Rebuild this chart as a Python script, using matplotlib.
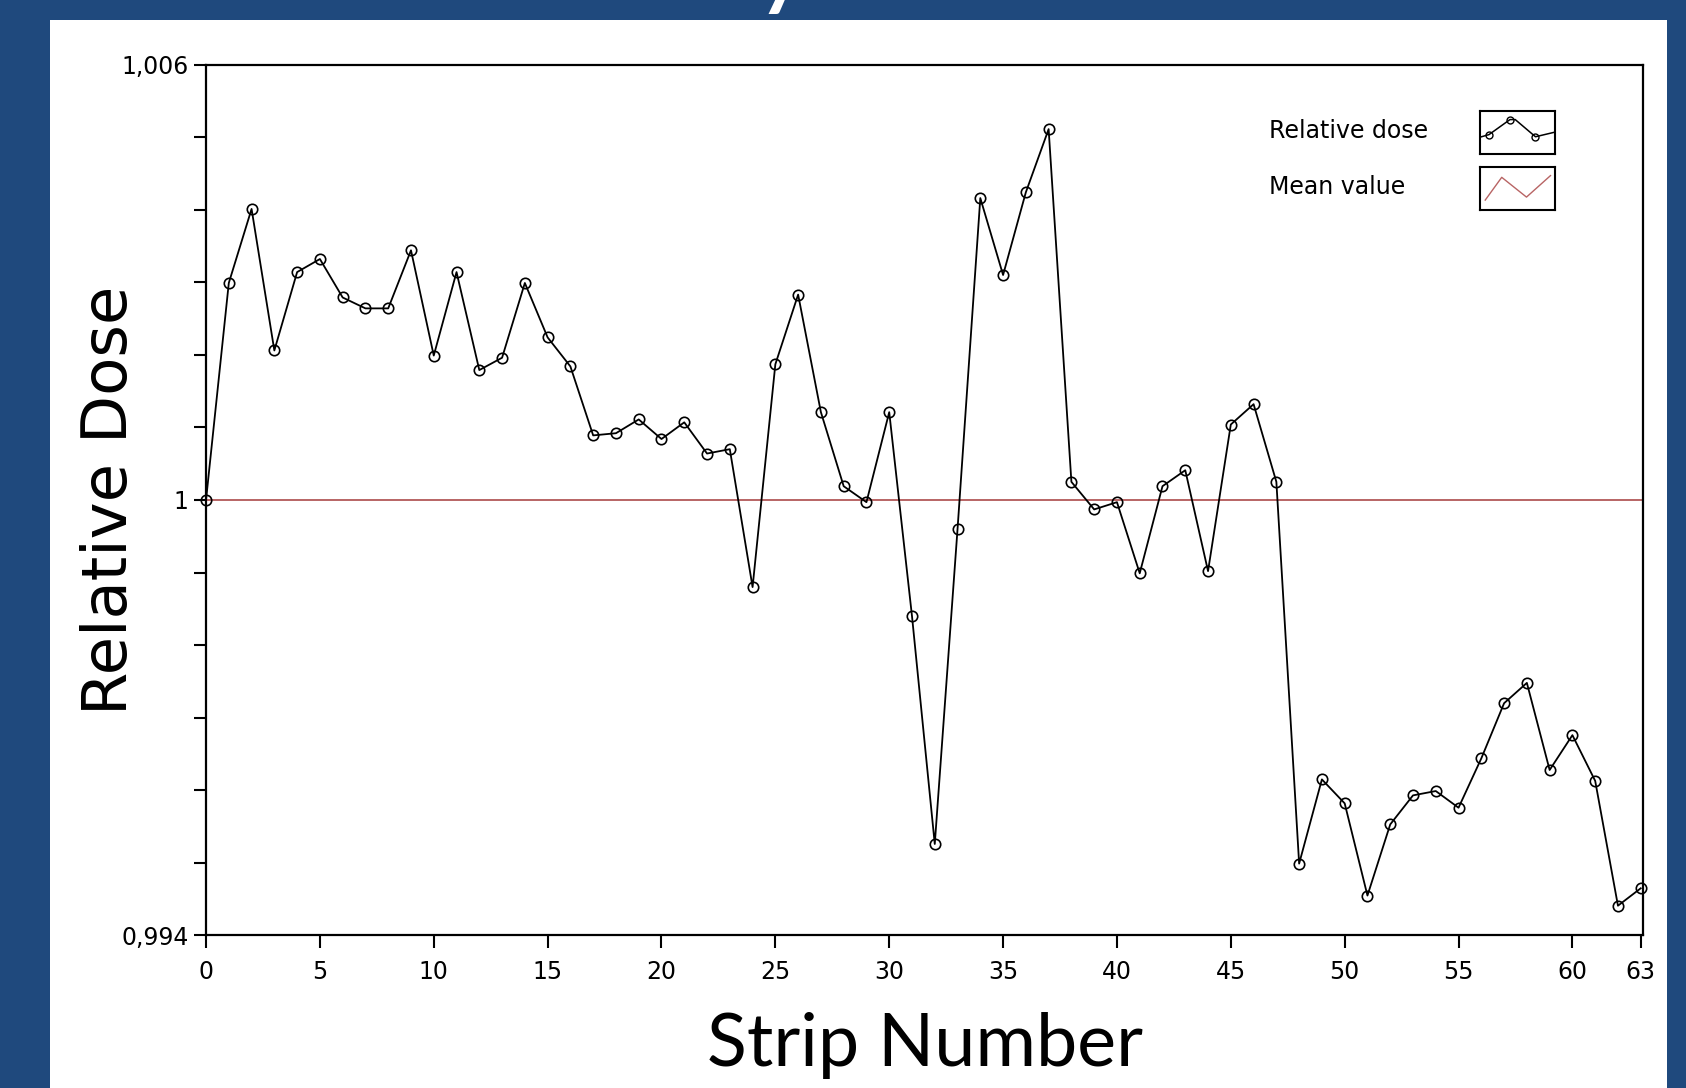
import matplotlib.pyplot as plt
import numpy as np

# relative dose per strip
strips = np.arange(64)
dose = [1.00000, 1.00299, 1.00401, 1.00206, 1.00314, 1.00332, 1.00279, 1.00264,
        1.00264, 1.00344, 1.00199, 1.00314, 1.00179, 1.00196, 1.00299, 1.00224,
        1.00184, 1.00089, 1.00092, 1.00111, 1.00084, 1.00107, 1.00064, 1.00070,
        0.99880, 1.00187, 1.00283, 1.00121, 1.00019, 0.99997, 1.00121, 0.99840,
        0.99526, 0.99960, 1.00416, 1.00310, 1.00424, 1.00511, 1.00025, 0.99987,
        0.99997, 0.99899, 1.00019, 1.00041, 0.99902, 1.00104, 1.00132, 1.00025,
        0.99499, 0.99615, 0.99582, 0.99455, 0.99553, 0.99593, 0.99599, 0.99576,
        0.99644, 0.99720, 0.99748, 0.99628, 0.99676, 0.99613, 0.99441, 0.99465]
mean_value = 1.0

y_ticks = [1.006, 1.005, 1.004, 1.003, 1.002, 1.001, 1.0,
           0.999, 0.998, 0.997, 0.996, 0.995, 0.994]
y_tick_labels = ['1,006', '', '', '', '', '', '1', '', '', '', '', '', '0,994']
x_ticks = [0, 5, 10, 15, 20, 25, 30, 35, 40, 45, 50, 55, 60, 63]

# little legend icons (LabVIEW style)
icon_dose_x = [0.02, 0.12, 0.40, 0.47, 0.74, 0.98]
icon_dose_y = [0.40, 0.45, 0.80, 0.80, 0.40, 0.50]
icon_mean_x = [0.07, 0.29, 0.62, 0.94]
icon_mean_y = [0.23, 0.76, 0.30, 0.80]

blue = '#1f497d'
mean_color = '#b86464'

fig = plt.figure(figsize=(16.86, 10.88), dpi=100)
fig.patch.set_facecolor(blue)
fig.add_artist(plt.Rectangle((0.0297, 0), 0.959, 0.9816, transform=fig.transFigure,
                             facecolor='white', edgecolor='none', zorder=0))
# bit of the slide title peeking in at the top
fig.text(0.463, 1.0, 'y', color='white', fontsize=60, fontweight='bold',
         family='Lato', ha='center', va='baseline')

ax = fig.add_axes([0.1222, 0.1402, 0.8523, 0.8005])
ax.axhline(mean_value, color=mean_color, lw=1.4, zorder=1)
ax.plot(strips, dose, color='black', lw=1.3, marker='o', ms=7.5, mfc='none',
        mec='black', mew=1.2, clip_on=False, zorder=3)

ax.set_xlim(0, 63.1)
ax.set_ylim(0.994, 1.006)
ax.set_yticks(y_ticks)
ax.set_yticklabels(y_tick_labels)
ax.set_xticks(x_ticks)
ax.set_xticklabels([str(t) for t in x_ticks])
for sp in ax.spines.values():
    sp.set_linewidth(1.6)
ax.tick_params(axis='both', direction='out', length=9, width=1.5, labelsize=17)
ax.tick_params(axis='x', pad=9)

ax.set_xlabel('Strip Number', fontsize=53, family='Lato', labelpad=20)
ax.set_ylabel('Relative Dose', fontsize=45)
ax.yaxis.set_label_coords(-0.046, 0.5)

# legend drawn by hand: text on the left, boxed icon on the right
fig.text(0.7527, 0.8796, 'Relative dose', fontsize=17, va='center')
fig.text(0.7527, 0.8281, 'Mean value', fontsize=17, va='center')

lg1 = fig.add_axes([0.8778, 0.8585, 0.0445, 0.0395])
lg1.plot(icon_dose_x, icon_dose_y, color='black', lw=1.1, marker='o', ms=5,
         mfc='none', mec='black', markevery=[1, 2, 4])
lg2 = fig.add_axes([0.8778, 0.8070, 0.0445, 0.0395])
lg2.plot(icon_mean_x, icon_mean_y, color=mean_color, lw=1)
for lg in (lg1, lg2):
    lg.set_xlim(0, 1)
    lg.set_ylim(0, 1)
    lg.set_xticks([])
    lg.set_yticks([])
    for sp in lg.spines.values():
        sp.set_linewidth(1.5)

fig.savefig('out.png', dpi=100, facecolor=fig.get_facecolor())
